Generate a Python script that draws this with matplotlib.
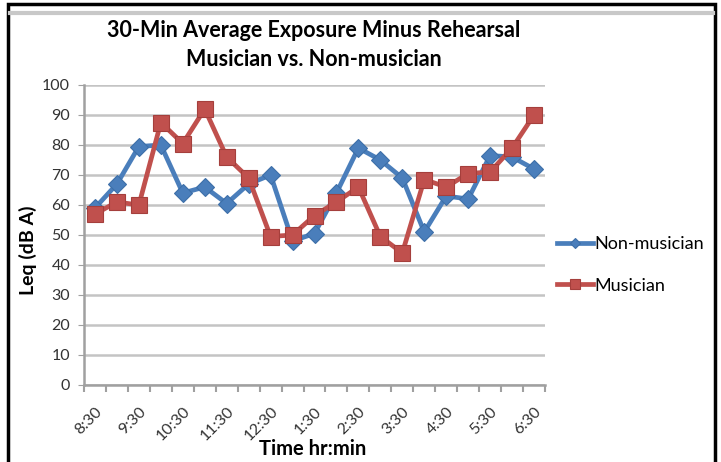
import matplotlib.pyplot as plt
from matplotlib.patches import Rectangle
from matplotlib.lines import Line2D

# 30 minute slots from 8:30 to 6:30
times = ["8:30", "9:00", "9:30", "10:00", "10:30", "11:00", "11:30", "12:00",
         "12:30", "1:00", "1:30", "2:00", "2:30", "3:00", "3:30", "4:00",
         "4:30", "5:00", "5:30", "6:00", "6:30"]
tick_labels = ["8:30", "9:30", "10:30", "11:30", "12:30", "1:30",
               "2:30", "3:30", "4:30", "5:30", "6:30"]

non_musician = [59, 67, 79.5, 80, 64, 66, 60.5, 67, 70, 48, 50.5,
                64, 79, 75, 69, 51, 63, 62, 76.5, 76, 72]
musician = [57, 61, 60, 87.5, 80.5, 92, 76, 69, 49.5, 50, 56.5,
            61, 66, 49.5, 44, 68.5, 66, 70.5, 71, 79, 90]

plt.rcParams["font.family"] = ["Lato", "DejaVu Sans"]

fig = plt.figure(figsize=(7.21, 4.62), dpi=100)
ax = fig.add_axes([84 / 721, 1 - 385 / 462, (545 - 84) / 721, 300 / 462])

x = list(range(len(times)))
ax.plot(x, non_musician, color="#4a7ebb", lw=3.4, marker="D", ms=9,
        mec="#3d6fa8", mew=0.8, label="Non-musician", zorder=3)
ax.plot(x, musician, color="#c0504d", lw=3.4, marker="s", ms=11.5,
        mec="#a53f3c", mew=0.8, label="Musician", zorder=4)

ax.set_xlim(-0.5, len(times) - 0.5)
ax.set_ylim(0, 100)
ax.set_yticks(range(0, 101, 10))
ax.tick_params(axis="y", labelsize=11.5, length=4, color="#a0a0a0", pad=6,
               labelcolor="#333333")
ax.grid(axis="y", color="#c4c4c4", lw=1.8)
ax.set_axisbelow(True)

# category ticks between points, labels every hour
ax.set_xticks([i - 0.5 for i in range(len(times) + 1)])
ax.set_xticklabels([])
ax.set_xticks(x[::2], minor=True)
ax.set_xticklabels(tick_labels, minor=True, rotation=45, ha="right",
                   rotation_mode="anchor", fontsize=11.5, color="#333333")
ax.tick_params(axis="x", which="major", length=5, color="#a0a0a0", width=1.5)
ax.tick_params(axis="x", which="minor", length=0, pad=14)

for s in ["top", "right"]:
    ax.spines[s].set_visible(False)
for s in ["left", "bottom"]:
    ax.spines[s].set_color("#a0a0a0")
    ax.spines[s].set_linewidth(1.8)

ax.set_ylabel("Leq (dB A)", fontsize=14, fontweight="bold")
ax.yaxis.set_label_coords(-(84 - 37) / 461, (385 - 250) / 300)
ax.set_xlabel("Time hr:min", fontsize=14.5, fontweight="bold")
ax.xaxis.set_label_coords(0.497, -(439 - 385) / 300)
fig.text(314 / 721, 1 - 45 / 462,
         "30-Min Average Exposure Minus Rehearsal\nMusician vs. Non-musician",
         ha="center", va="center", fontsize=15.5, fontweight="bold",
         linespacing=1.5)

ax.legend(loc="center left", bbox_to_anchor=(0.99, 0.4), frameon=False,
          fontsize=13, handlelength=2.0, handletextpad=0.1,
          labelspacing=1.4, markerscale=0.6)

# frame around the picture
fig.add_artist(Rectangle((8 / 721, -0.02), (715 - 8) / 721, 1.02 - 4 / 462,
                         fill=False, ec="black", lw=2.5,
                         transform=fig.transFigure))
fig.add_artist(Line2D([10 / 721, 713 / 721], [1 - 13 / 462, 1 - 13 / 462],
                      color="#c8c8c8", lw=3, transform=fig.transFigure))

fig.savefig("out.png", dpi=100)
